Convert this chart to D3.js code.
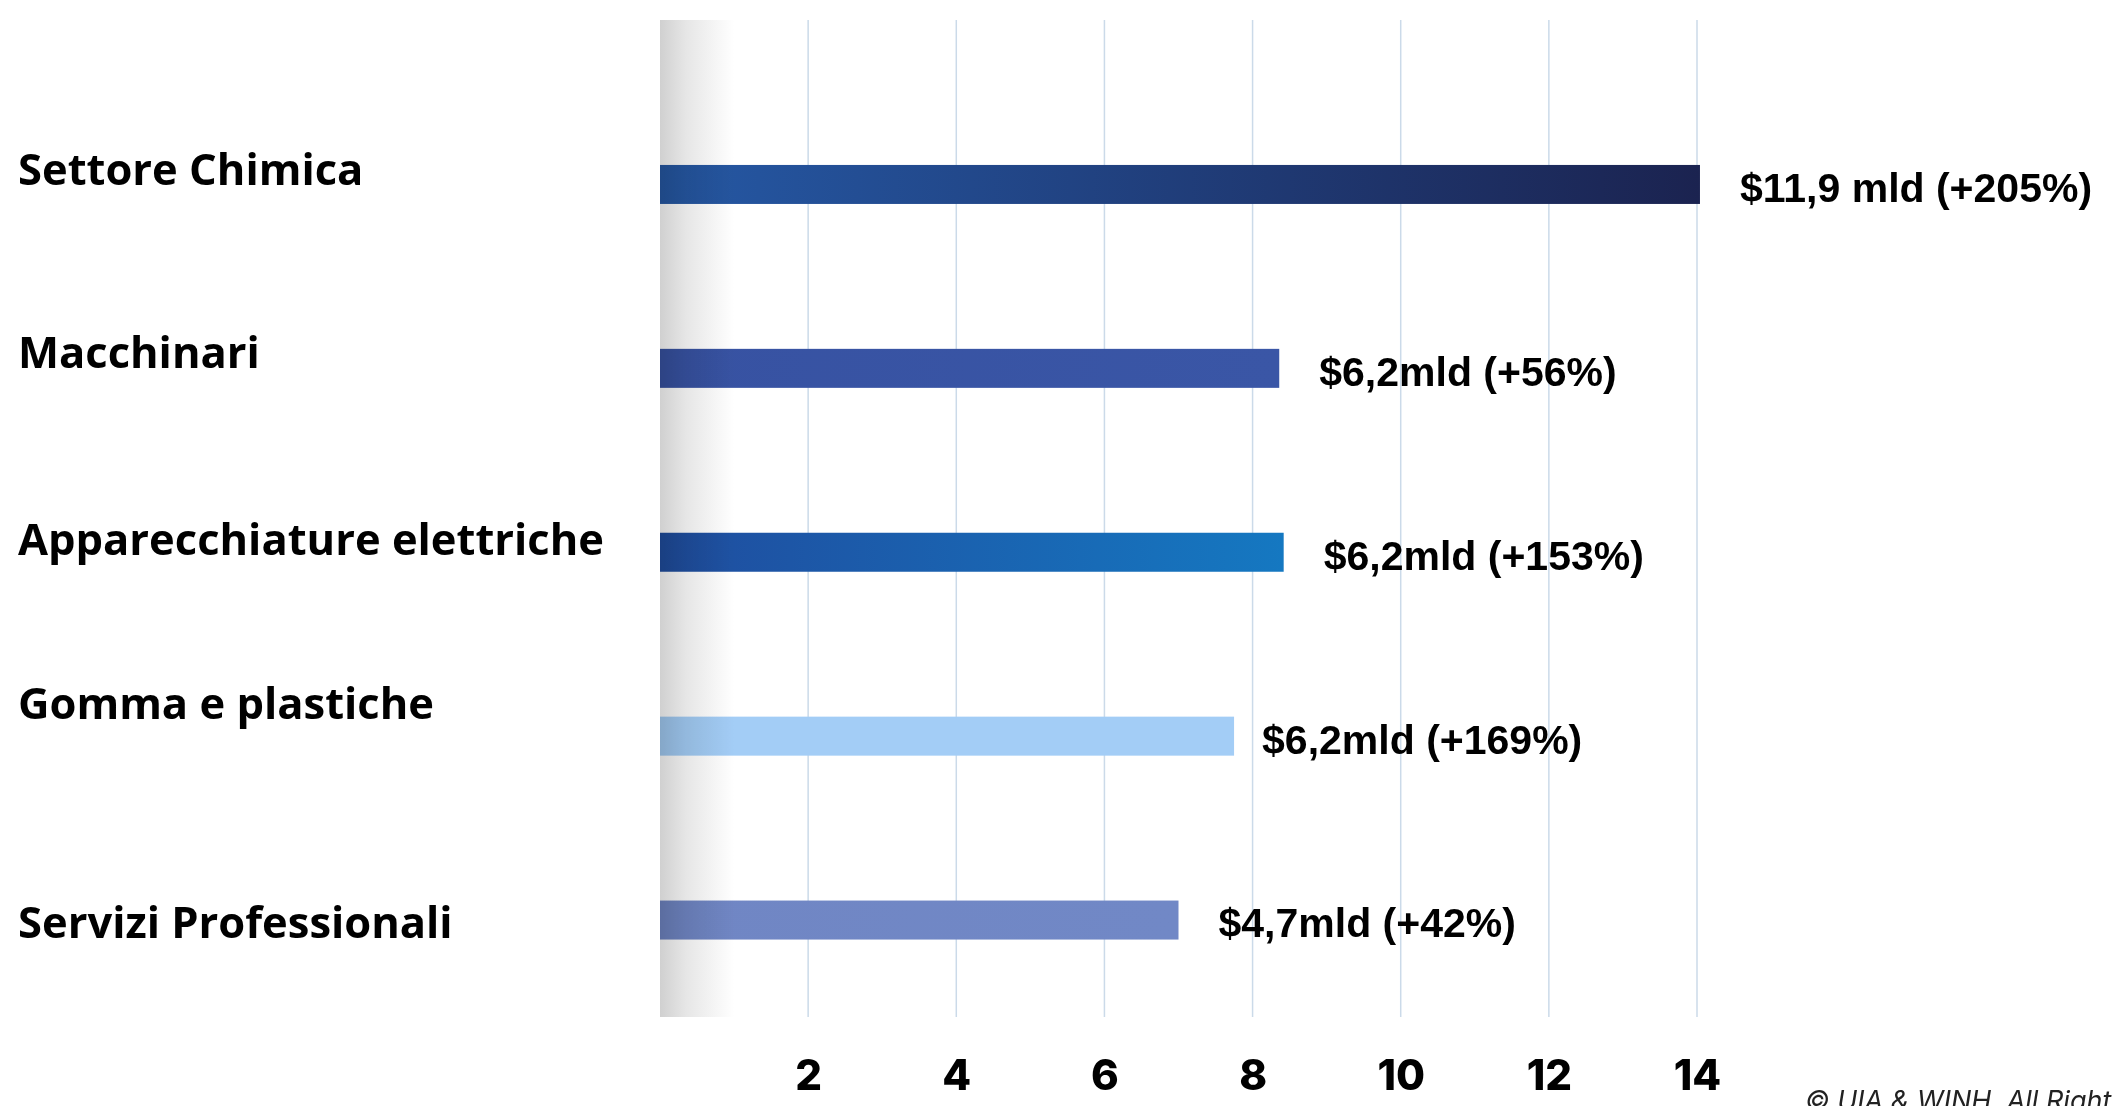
<!DOCTYPE html>
<html>
<head>
  <meta charset="utf-8">
  <style>
    body {
      margin: 0;
      background: #fff;
    }

    svg {
      display: block;
    }

    .cat {
      font-family: "Open Sans", Lato, sans-serif;
      font-weight: 700;
      font-size: 43.5px;
      fill: #000;
    }

    .val {
      font-family: "Liberation Sans", Arial, sans-serif;
      font-weight: 700;
      font-size: 41px;
      fill: #000;
    }

    .tick-label {
      font-family: Inter, "Open Sans", sans-serif;
      font-weight: 800;
      font-size: 42px;
      fill: #000;
    }

    .copy {
      font-family: Inter, "Open Sans", sans-serif;
      font-style: italic;
      font-size: 27px;
      fill: #222;
    }
  </style>
</head>
<body>
  <div id="chart"></div>
  <script src="https://d3js.org/d3.v7.min.js"></script>
  <script>

    // DATA
    var categories = [
      'Settore Chimica',
      'Macchinari',
      'Apparecchiature elettriche',
      'Gomma e plastiche',
      'Servizi Professionali'
    ];

    // bar lengths as drawn on the axis
    var barValues = [14.04, 8.36, 8.42, 7.75, 7.0];

    var valueLabels = [
      '$11,9 mld (+205%)',
      '$6,2mld (+56%)',
      '$6,2mld (+153%)',
      '$6,2mld (+169%)',
      '$4,7mld (+42%)'
    ];

    var tickValues = [2, 4, 6, 8, 10, 12, 14];

    var copyright = '\u00A9 UIA & WINH. All Rights Reserved';

    // STYLE
    var barFills = [
      ['#2558a4', '#1b2350'],
      ['#3752a2', '#3a56a6'],
      ['#1f4d9f', '#1578c1'],
      ['#a3cdf6', '#a3cdf6'],
      ['#7086c4', '#7188c6']
    ];

    // category labels sit a little off the bar centre, not all the same
    var catLabelShift = [-15, -16, -12, -32, 3];
    var valLabelGap = [40, 40, 40, 28, 40];

    // LAYOUT
    var width = 2112;
    var height = 1106;
    var plotTop = 20;
    var plotBottom = 1017;
    var barHeight = 39;

    var svg =
      d3.select('#chart')
        .append('svg')
          .attr('width', width)
          .attr('height', height);

    svg.append('rect')
      .attr('width', width)
      .attr('height', height)
      .attr('fill', '#fff');

    var x = d3.scaleLinear()
      .domain([0, 14])
      .range([660, 1697]);

    var y = d3.scalePoint()
      .domain(categories)
      .range([92.5, 1012])
      .padding(0.5);

    var defs = svg.append('defs');

    barFills.forEach(function(f, i) {
      var g = defs.append('linearGradient')
        .attr('id', 'bar' + i)
        .attr('x1', 0).attr('x2', 1)
        .attr('y1', 0).attr('y2', 0);
      g.append('stop').attr('offset', 0).attr('stop-color', f[0]);
      g.append('stop').attr('offset', 1).attr('stop-color', f[1]);
    });

    var shade = defs.append('linearGradient')
      .attr('id', 'shade')
      .attr('x1', 0).attr('x2', 1)
      .attr('y1', 0).attr('y2', 0);
    shade.append('stop').attr('offset', 0).attr('stop-color', '#d0d0d0');
    shade.append('stop').attr('offset', 0.35).attr('stop-color', '#e6e6e6');
    shade.append('stop').attr('offset', 1).attr('stop-color', '#ffffff');

    // gridlines
    svg.append('g')
      .selectAll('line')
      .data(tickValues)
      .enter()
        .append('line')
          .attr('x1', d => x(d))
          .attr('x2', d => x(d))
          .attr('y1', plotTop)
          .attr('y2', plotBottom)
          .attr('stroke', '#cbdae9')
          .attr('stroke-width', 1.5);

    // bars
    svg.append('g')
      .selectAll('rect')
      .data(categories)
      .enter()
        .append('rect')
          .attr('x', x(0))
          .attr('y', d => y(d) - barHeight / 2)
          .attr('width', (d, i) => x(barValues[i]) - x(0))
          .attr('height', barHeight)
          .attr('fill', (d, i) => `url(#bar${i})`);

    // shaded band at the axis origin, drawn over the bars
    svg.append('rect')
      .attr('x', x(0))
      .attr('y', plotTop)
      .attr('width', x(1) - x(0))
      .attr('height', plotBottom - plotTop)
      .attr('fill', 'url(#shade)')
      .style('mix-blend-mode', 'multiply');

    // category labels
    svg.append('g')
      .selectAll('text')
      .data(categories)
      .enter()
        .append('text')
          .attr('class', 'cat')
          .attr('x', 18)
          .attr('y', (d, i) => y(d) + catLabelShift[i])
          .attr('dy', '0.35em')
          .text(d => d);

    // value labels
    svg.append('g')
      .selectAll('text')
      .data(categories)
      .enter()
        .append('text')
          .attr('class', 'val')
          .attr('x', (d, i) => x(barValues[i]) + valLabelGap[i])
          .attr('y', d => y(d) + 3)
          .attr('dy', '0.35em')
          .text((d, i) => valueLabels[i]);

    // x axis labels
    var axis = d3.axisBottom(x)
      .tickValues(tickValues)
      .tickSize(0)
      .tickPadding(0)
      .tickFormat(d3.format('d'));

    var axisG = svg.append('g')
      .attr('transform', `translate(0, 1075)`)
      .call(axis);

    axisG.select('.domain').remove();
    axisG.selectAll('text')
      .attr('class', 'tick-label')
      .attr('y', 0)
      .attr('dy', '0.35em')
      .attr('font-family', null)
      .attr('font-size', null);

    svg.append('text')
      .attr('class', 'copy')
      .attr('x', 1805)
      .attr('y', 1110)
      .text(copyright);

  </script>
</body>
</html>
